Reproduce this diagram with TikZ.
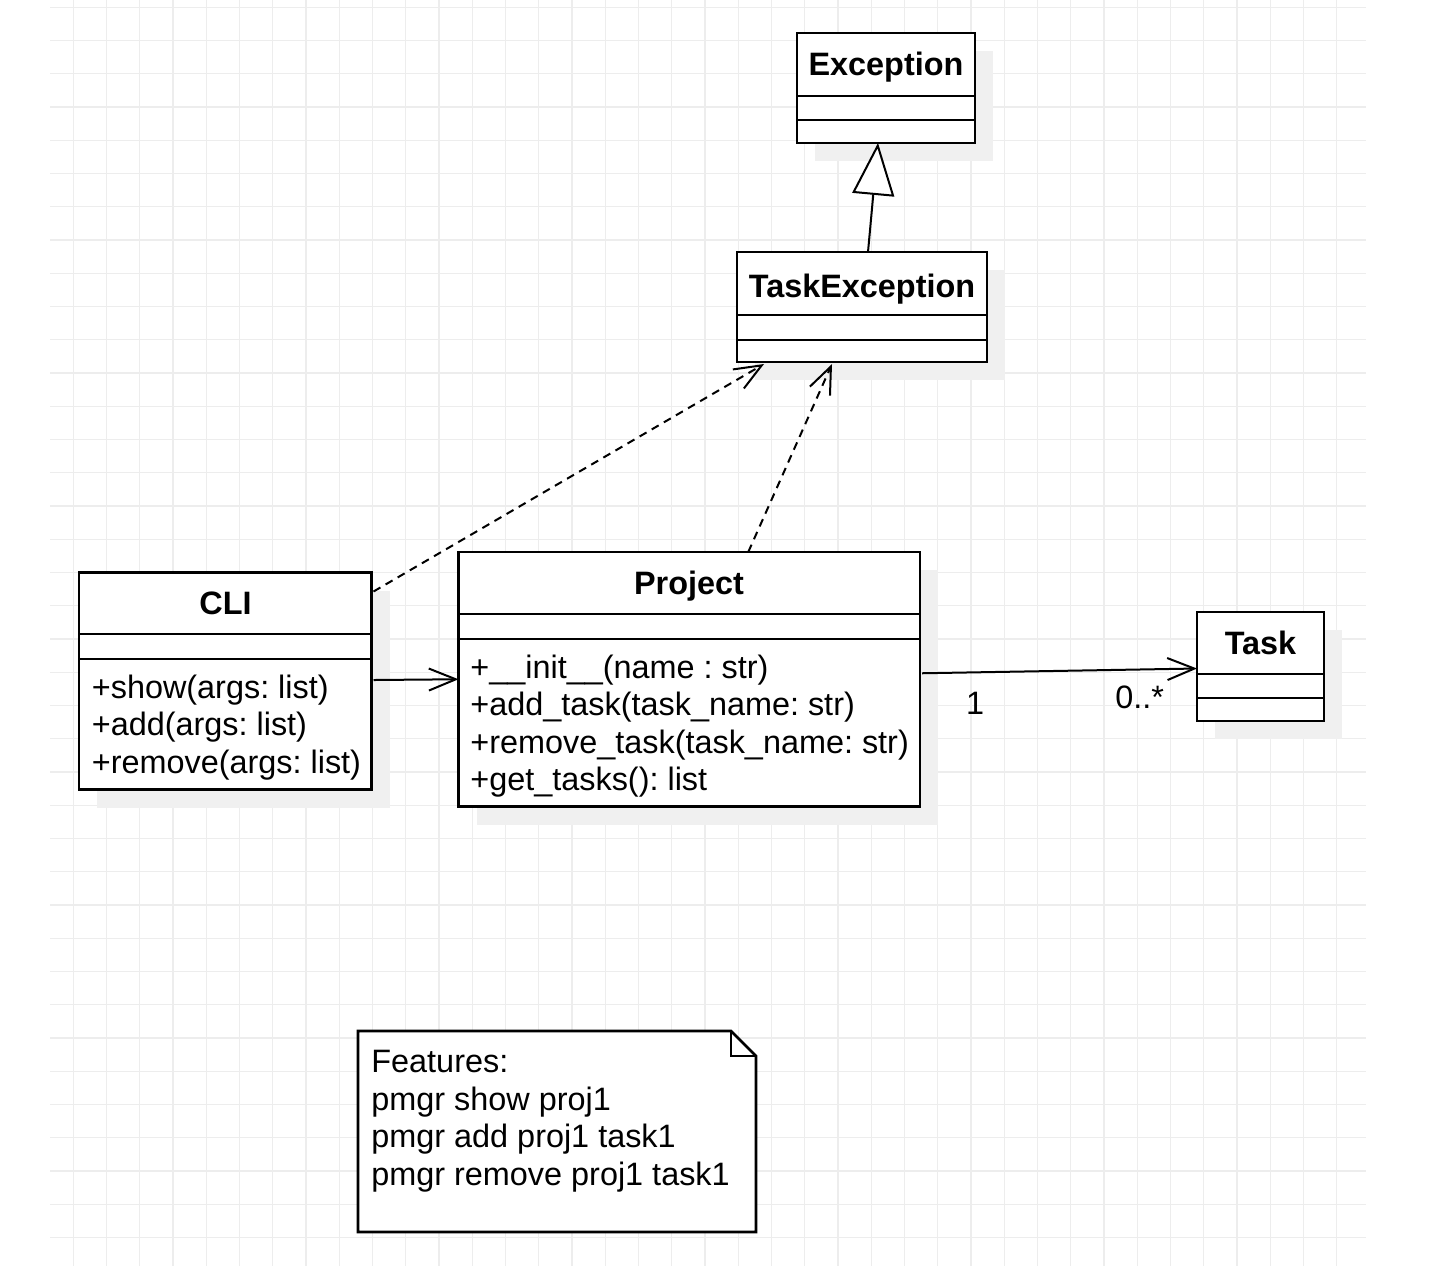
\documentclass[tikz,border=0pt]{standalone}
\usepackage{fontspec}
\setmainfont{Liberation Sans}
\usetikzlibrary{arrows.meta,calc}
\frenchspacing
\begin{document}
\begin{tikzpicture}[x=0.5pt,y=-0.5pt,
  gridline/.style={draw=black!7,line width=0.65pt},
  box/.style={draw=black,line width=1.35pt,fill=white,inner sep=0pt,outer sep=0pt,anchor=north west},
  sep/.style={draw=black,line width=1.35pt},
  shade/.style={fill=black!6,draw=none},
  title/.style={font=\bfseries\fontsize{16.2}{18.75}\selectfont,anchor=base,inner sep=0pt},
  member/.style={font=\fontsize{16.2}{18.75}\selectfont,anchor=base west,inner sep=0pt},
  conn/.style={draw=black,line width=1pt},
  openarrow/.style={conn,-{Straight Barb[length=13.5pt,width=11pt]}},
  depend/.style={openarrow,dash pattern=on 4pt off 3pt},
  inherit/.style={conn,-{Triangle[open,length=26pt,width=21pt,fill=white]}},
  note/.style={draw=black,line width=1.35pt,fill=white}
]
\useasboundingbox (0,0) rectangle (1440,1266);
\fill[white] (0,0) rectangle (1440,1266);
% grid
\foreach \i in {0,...,38} \draw[gridline] ({73.3+33.25*\i},0) -- ({73.3+33.25*\i},1266);
\foreach \j in {0,...,37} \draw[gridline] (50,{7.3+33.25*\j}) -- (1366,{7.3+33.25*\j});

% shadows
\fill[shade] (815,51) rectangle (993,161);
\fill[shade] (755,270) rectangle (1005,380);
\fill[shade] (97,590.5) rectangle (389.5,807.5);
\fill[shade] (476.5,570) rectangle (938,824.5);
\fill[shade] (1215,630) rectangle (1342,739);

% Exception
\node[box,minimum width=89pt,minimum height=55pt] (exc) at (797,33) {};
\draw[sep] (exc.west |- 0,96) -- (exc.east |- 0,96);
\draw[sep] (exc.west |- 0,120) -- (exc.east |- 0,120);
\node[title] (exct) at (886,75) {Exception};

% TaskException
\node[box,minimum width=125pt,minimum height=55pt] (texc) at (737,252) {};
\draw[sep] (texc.west |- 0,315) -- (texc.east |- 0,315);
\draw[sep] (texc.west |- 0,340) -- (texc.east |- 0,340);
\node[title] (texct) at (862,297) {TaskException};

% CLI
\node[box,minimum width=146.25pt,minimum height=108.5pt] (cli) at (79,572.5) {};
\draw[sep] (cli.west |- 0,634) -- (cli.east |- 0,634);
\draw[sep] (cli.west |- 0,659) -- (cli.east |- 0,659);
\node[title] (clit) at (225.5,614.5) {CLI};
\node[member] (clim1) at (91.5,698) {+show(args: list)};
\node[member] (clim2) at (91.5,735.5) {+add(args: list)};
\node[member] (clim3) at (91.5,773) {+remove(args: list)};

% Project
\node[box,minimum width=230.75pt,minimum height=127.25pt] (proj) at (458.5,552) {};
\draw[sep] (proj.west |- 0,614) -- (proj.east |- 0,614);
\draw[sep] (proj.west |- 0,639) -- (proj.east |- 0,639);
\node[title] (projt) at (689,594) {Project};
\node[member] (projm1) at (470,678) {+\_\_init\_\_(name : str)};
\node[member] (projm2) at (470,715.5) {+add\_task(task\_name: str)};
\node[member] (projm3) at (470,753) {+remove\_task(task\_name: str)};
\node[member] (projm4) at (470,790.5) {+get\_tasks(): list};

% Task
\node[box,minimum width=63.5pt,minimum height=54.5pt] (task) at (1197,612) {};
\draw[sep] (task.west |- 0,674) -- (task.east |- 0,674);
\draw[sep] (task.west |- 0,698) -- (task.east |- 0,698);
\node[title] (taskt) at (1260.5,654) {Task};

% connectors
\draw[inherit] ([xshift=3pt]texc.north) -- ([xshift=-4pt]exc.south);
\draw[openarrow] ([xshift=1pt,yshift=0.5pt]cli.east) -- (proj.west);
\draw[depend] ([xshift=1pt,yshift=-9.5pt]cli.north east) -- ([xshift=-49pt,yshift=-1pt]texc.south);
\draw[depend] ([xshift=29.5pt]proj.north) -- ([xshift=-15pt,yshift=-1pt]texc.south);
\draw[openarrow] ([xshift=1pt,yshift=3pt]proj.east) -- ([yshift=-1pt]task.west);
\node[member,anchor=base] (mult1) at (975,714.5) {1};
\node[member] (multn) at (1115,708.5) {0..*};

% note
\coordinate (nA) at (358,1031);
\coordinate (nB) at (731,1031);
\coordinate (nC) at (756,1056);
\coordinate (nD) at (756,1232);
\coordinate (nE) at (358,1232);
\coordinate (nF) at (731,1056);
\draw[note,line join=miter] (nA) -- (nB) -- (nC) -- (nD) -- (nE) -- cycle;
\draw[sep] (nB) -- (nF) -- (nC);
\node[member] (nt1) at (371,1072.5) {Features:};
\node[member] (nt2) at (371,1110) {pmgr show proj1};
\node[member] (nt3) at (371,1147.5) {pmgr add proj1 task1};
\node[member] (nt4) at (371,1185) {pmgr remove proj1 task1};
\end{tikzpicture}
\end{document}
